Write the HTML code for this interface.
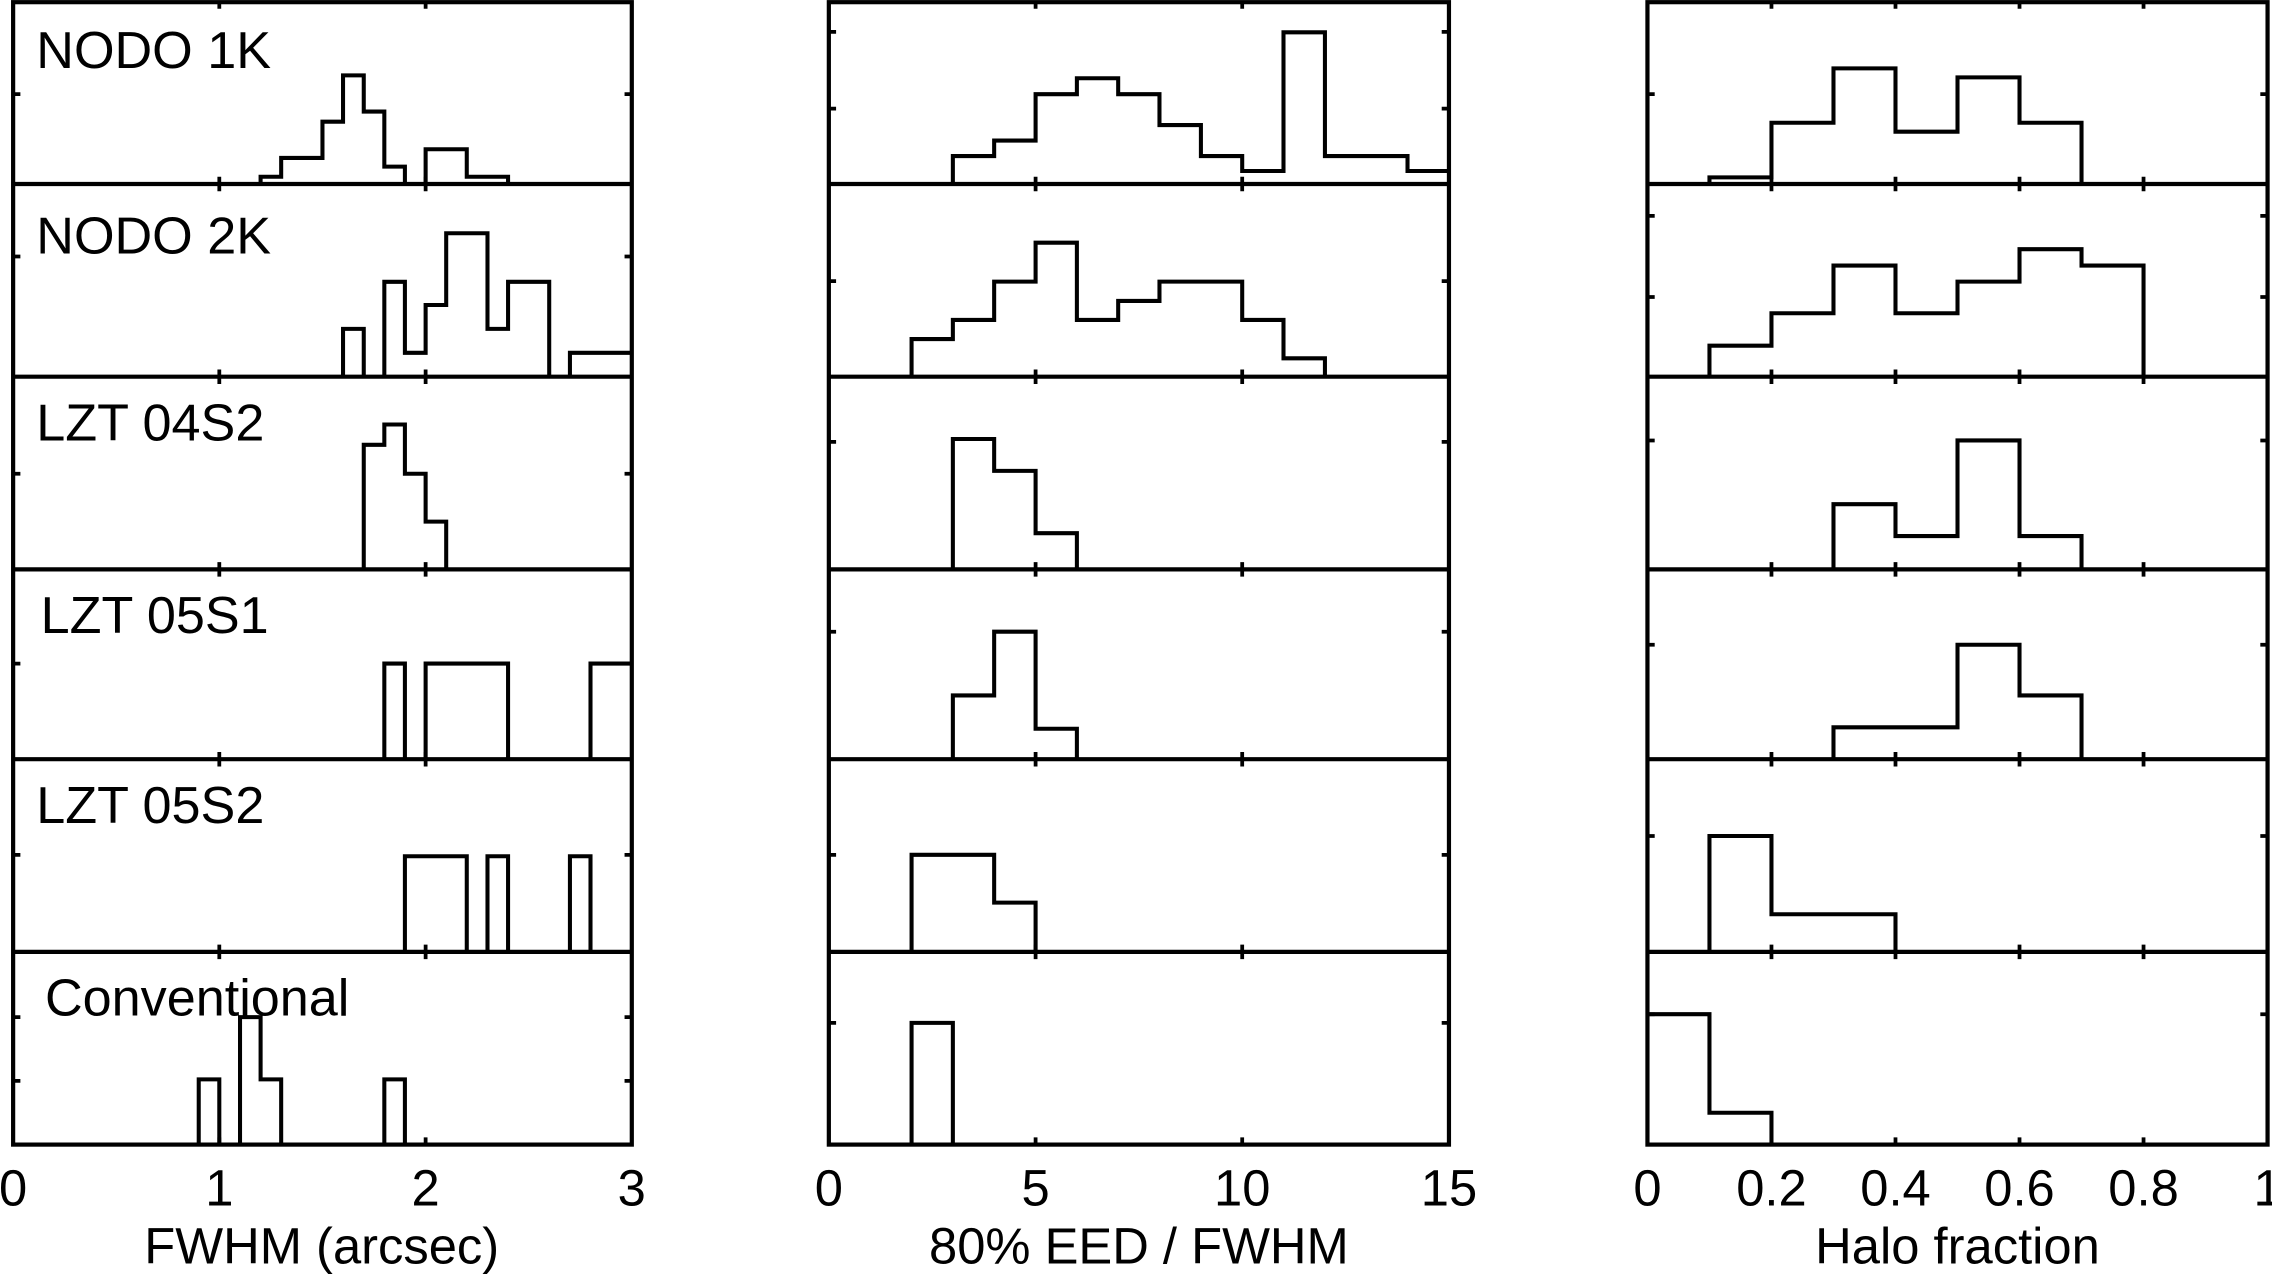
<!DOCTYPE html>
<html><head><meta charset="utf-8"><style>html,body{margin:0;padding:0;background:#fff}svg{display:block}</style></head>
<body>
<svg width="2272" height="1275" viewBox="0 0 1568 880" xmlns="http://www.w3.org/2000/svg" font-family="Liberation Sans, sans-serif">
<rect width="1568" height="880" fill="#fff"/>
<g fill="none" stroke="#000" stroke-width="2.9">
<rect x="9" y="1.5" width="427" height="788.5"/>
<rect x="572" y="1.5" width="428" height="788.5"/>
<rect x="1137" y="1.5" width="428" height="788.5"/>
<path d="M9,127H436M9,260H436M9,393H436M9,524H436M9,657H436"/>
<path d="M572,127H1000M572,260H1000M572,393H1000M572,524H1000M572,657H1000"/>
<path d="M1137,127H1565M1137,260H1565M1137,393H1565M1137,524H1565M1137,657H1565"/>
</g>
<g stroke="#000" stroke-width="2.6">
<path d="M151.3,1v5M293.7,1v5M151.3,122v10M293.7,122v10M151.3,255v10M293.7,255v10M151.3,388v10M293.7,388v10M151.3,519v10M293.7,519v10M151.3,652v10M293.7,652v10M151.3,790v-5M293.7,790v-5"/>
<path d="M714.7,1v5M857.3,1v5M714.7,122v10M857.3,122v10M714.7,255v10M857.3,255v10M714.7,388v10M857.3,388v10M714.7,519v10M857.3,519v10M714.7,652v10M857.3,652v10M714.7,790v-5M857.3,790v-5"/>
<path d="M1222.6,1v5M1308.2,1v5M1393.8,1v5M1479.4,1v5M1222.6,122v10M1308.2,122v10M1393.8,122v10M1479.4,122v10M1222.6,255v10M1308.2,255v10M1393.8,255v10M1479.4,255v10M1222.6,388v10M1308.2,388v10M1393.8,388v10M1479.4,388v10M1222.6,519v10M1308.2,519v10M1393.8,519v10M1479.4,519v10M1222.6,652v10M1308.2,652v10M1393.8,652v10M1479.4,652v10M1222.6,790v-5M1308.2,790v-5M1393.8,790v-5M1479.4,790v-5"/>
<path d="M9,65h5M436,65h-5M9,177h5M436,177h-5M9,327h5M436,327h-5M9,458h5M436,458h-5M9,590h5M436,590h-5M9,702h5M436,702h-5M9,746h5M436,746h-5"/>
<path d="M572,22h5M1000,22h-5M572,75h5M1000,75h-5M572,194h5M1000,194h-5M572,305h5M1000,305h-5M572,436h5M1000,436h-5M572,590h5M1000,590h-5M572,706h5M1000,706h-5"/>
<path d="M1137,65h5M1565,65h-5M1137,149h5M1565,149h-5M1137,205h5M1565,205h-5M1137,304h5M1565,304h-5M1137,445h5M1565,445h-5M1137,577h5M1565,577h-5M1137,700h5M1565,700h-5"/>
</g>
<g fill="none" stroke="#000" stroke-width="2.8" stroke-linejoin="miter">
<path d="M179.8,127V122H194V109H222.5V84H236.7V52H251V77H265.2V115H279.4V127M293.7,127V103H322.1V122H350.6V127"/>
<path d="M236.7,260V227H251V260M265.2,260V194.5H279.4V243.5H293.7V210.5H307.9V161H336.4V227H350.6V194.5H379V260M393.3,260V243.5H436"/>
<path d="M251,393V307H265.2V293H279.4V327H293.7V360H307.9V393"/>
<path d="M265.2,524V458H279.4V524M293.7,524V458H350.6V524M407.5,524V458H436"/>
<path d="M279.4,657V591H322.1V657M336.4,657V591H350.6V657M393.3,657V591H407.5V657"/>
<path d="M137.1,790V745H151.3V790M165.6,790V702H179.8V745H194V790M265.2,790V745H279.4V790"/>
<path d="M657.6,127V107.7H686.1V97H714.7V65H743.2V54H771.7V65H800.2V86.3H828.8V107.7H857.3V118H885.8V22.3H914.4V107.7H971.4V118H1000"/>
<path d="M629.1,260V234H657.6V220.8H686.1V194.4H714.7V167.5H743.2V220.8H771.7V207.7H800.2V194.4H857.3V220.8H885.8V247.3H914.4V260"/>
<path d="M657.6,393V303H686.1V325H714.7V368H743.2V393"/>
<path d="M657.6,524V480H686.1V436H714.7V503H743.2V524"/>
<path d="M629.1,657V590H686.1V623H714.7V657"/>
<path d="M629.1,790V706H657.6V790"/>
<path d="M1179.8,127V122.4H1222.6V84.7H1265.4V47.2H1308.2V90.9H1351V53.4H1393.8V84.7H1436.6V127"/>
<path d="M1179.8,260V238.6H1222.6V216.2H1265.4V183.3H1308.2V216.2H1351V194.4H1393.8V172H1436.6V183.3H1479.4V260"/>
<path d="M1265.4,393V348H1308.2V370H1351V304H1393.8V370H1436.6V393"/>
<path d="M1265.4,524V502H1351V445H1393.8V480H1436.6V524"/>
<path d="M1179.8,657V577H1222.6V631H1308.2V657"/>
<path d="M1137,700H1179.8V768H1222.6V790"/>
</g>
<g font-size="36" fill="#000">
<text x="25" y="47">NODO 1K</text>
<text x="25" y="175">NODO 2K</text>
<text x="25" y="304">LZT 04S2</text>
<text x="28" y="437">LZT 05S1</text>
<text x="25" y="568">LZT 05S2</text>
<text x="31" y="701">Conventional</text>
</g>
<g font-size="35" fill="#000" text-anchor="middle">
<text x="9" y="832">0</text><text x="151.3" y="832">1</text><text x="293.7" y="832">2</text><text x="436" y="832">3</text>
<text x="572" y="832">0</text><text x="714.7" y="832">5</text><text x="857.3" y="832">10</text><text x="1000" y="832">15</text>
<text x="1137" y="832">0</text><text x="1222.6" y="832">0.2</text><text x="1308.2" y="832">0.4</text><text x="1393.8" y="832">0.6</text><text x="1479.4" y="832">0.8</text><text x="1565" y="832">1</text>
<text x="222" y="872">FWHM (arcsec)</text>
<text x="786" y="872">80% EED / FWHM</text>
<text x="1351" y="872">Halo fraction</text>
</g>
</svg>
</body></html>
